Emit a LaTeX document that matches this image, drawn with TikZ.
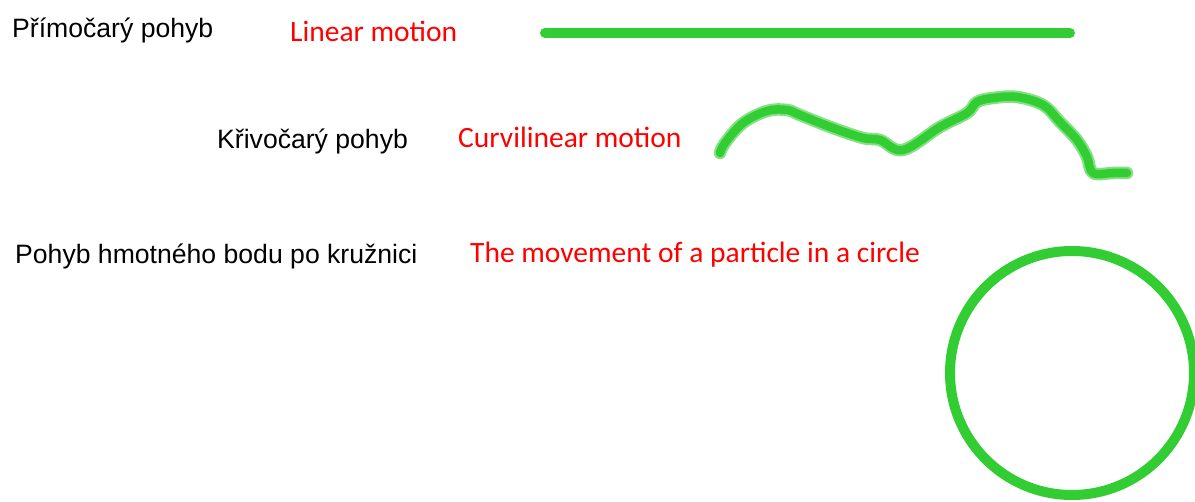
\documentclass[tikz,border=0pt]{standalone}
\usepackage{fontspec}
\setmainfont{Liberation Sans}
\newfontfamily\calibrifont{Carlito}
\usetikzlibrary{positioning}
\definecolor{limegreen}{RGB}{50,205,50}

\begin{document}
\begin{tikzpicture}[x=1pt, y=-1pt,
        czech/.style = {anchor=base west, inner sep=0pt, font=\fontsize{26.6}{30}\selectfont},
        english/.style = {anchor=base west, inner sep=0pt, text=red, font=\calibrifont\fontsize{29.5}{34}\selectfont},
        track/.style = {draw=limegreen, line width=10pt, line cap=round},
        halo/.style = {draw=limegreen!60, line width=12.5pt, line cap=round, line join=round},
        core/.style = {draw=limegreen, line width=8.5pt, line cap=round, line join=round}
    ]
    \useasboundingbox (0,0) rectangle (1195,502);

    % Nodes
    \node (linearcz) [czech] at (12,38) {Přímočarý pohyb};
    \node (linearen) [english] at (290,42) {Linear motion};
    \node (curvecz) [czech] at (217,149) {Křivočarý pohyb};
    \node (curveen) [english] at (458,148) {Curvilinear motion};
    \node (circlecz) [czech] at (15,264) {Pohyb hmotného bodu po kružnici};
    \node (circleen) [english] at (470,263) {The movement of a particle in a circle};

    % Lines
    \coordinate (linestart) at (545,33);
    \coordinate (lineend) at (1070,33);
    \draw[track] (linestart) -- (lineend);

    \foreach \s in {halo, core}
        \draw[\s] plot[smooth, tension=0.6] coordinates {(720,153) (725,143) (743,123) (767,111) (787,110)
            (800,115) (833,128) (863,138) (880,140) (903,150) (940,127) (967,113) (977,102) (993,98)
            (1017,97) (1043,105) (1060,122) (1077,140) (1087,157) (1093,173) (1113,173) (1127,173)};

    \draw[track] (1072,373) circle[radius=122];

\end{tikzpicture}
\end{document}
